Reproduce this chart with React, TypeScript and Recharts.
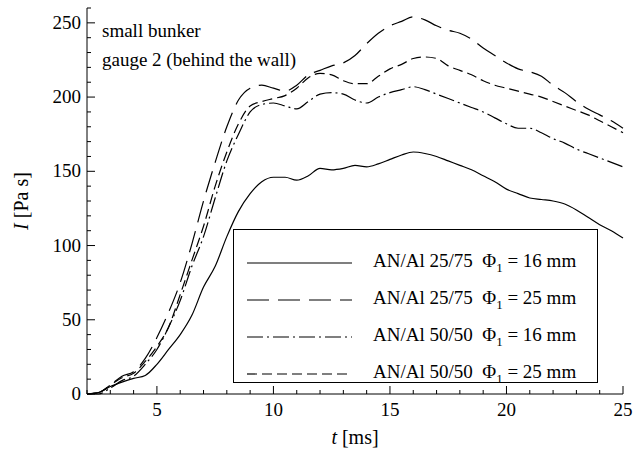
import { LineChart, Line, XAxis, YAxis, Label } from 'recharts';

const times = [2, 2.5, 3, 3.5, 4, 4.5, 5, 5.5, 6, 6.5, 7, 7.5, 8, 8.5, 9, 9.5, 10, 10.5, 11, 11.5, 12, 12.5, 13, 13.5, 14, 14.5, 15, 15.5, 16, 16.5, 17, 17.5, 18, 18.5, 19, 19.5, 20, 20.5, 21, 21.5, 22, 22.5, 23, 23.5, 24, 24.5, 25];

const an2575d16 = [0, 1, 5, 8, 10.5, 12.5, 20, 30, 40, 53, 72, 86, 106, 123, 135, 143, 146, 146, 144, 147, 152, 151, 152, 154, 153, 155, 158, 161, 163, 162, 160, 157, 154, 151, 147, 143, 138, 135, 132, 131, 130, 128, 124, 119, 114, 110, 105];
const an2575d25 = [0, 1, 6, 12, 15, 24, 38, 55, 75, 101, 130, 156, 180, 198, 206, 208, 206, 204, 208, 215, 218, 221, 223, 228, 236, 243, 248, 251, 254, 252, 248, 245, 243, 239, 233, 228, 223, 219, 217, 214, 208, 203, 197, 192, 188, 184, 179];
const an5050d16 = [0, 0, 4, 9, 12, 20, 30, 45, 63, 86, 106, 132, 157, 175, 190, 195, 196, 194, 192, 197, 202, 203, 202, 198, 196, 200, 203, 205, 207, 205, 202, 199, 196, 193, 190, 186, 182, 179, 179, 176, 172, 169, 165, 162, 159, 156, 153];
const an5050d25 = [0, 1, 6, 11, 14, 22, 32, 45, 67, 90, 113, 140, 163, 182, 194, 197, 199, 201, 206, 213, 216, 215, 211, 209, 209, 214, 219, 222, 226, 227, 226, 221, 218, 215, 211, 208, 206, 204, 202, 200, 197, 194, 191, 188, 184, 180, 176];

const xTicks = Array.from({ length: 24 }, (_, i) => i + 2);
const yTicks = Array.from({ length: 27 }, (_, i) => i * 10);

const series = [
  { key: 'a', label: 'AN/Al 25/75', phi: '16', dash: undefined },
  { key: 'b', label: 'AN/Al 25/75', phi: '25', dash: '22 9' },
  { key: 'c', label: 'AN/Al 50/50', phi: '16', dash: '16 4 2 4' },
  { key: 'd', label: 'AN/Al 50/50', phi: '25', dash: '10 5' },
];

const data = times.map((t, i) => ({
  t,
  a: an2575d16[i],
  b: an2575d25[i],
  c: an5050d16[i],
  d: an5050d25[i],
}));

const FONT = '"Liberation Serif", "DejaVu Serif", serif';

const XTick = ({ x, y, payload }: any) => {
  const major = payload.value % 5 === 0;
  return (
    <g>
      <line x1={x} x2={x} y1={y} y2={y - (major ? 8 : 4)} stroke="#000" />
      {major && (
        <text x={x} y={y + 22} textAnchor="middle" fontSize={19} fontFamily={FONT}>
          {payload.value}
        </text>
      )}
    </g>
  );
};

const YTick = ({ x, y, payload }: any) => {
  const major = payload.value % 50 === 0;
  return (
    <g>
      <line x1={x} x2={x + (major ? 8 : 4)} y1={y} y2={y} stroke="#000" />
      {major && (
        <text x={x - 6} y={y + 6} textAnchor="end" fontSize={19} fontFamily={FONT}>
          {payload.value}
        </text>
      )}
    </g>
  );
};

const YTickRight = ({ x, y, payload }: any) => {
  const major = payload.value % 50 === 0;
  return <line x1={x} x2={x - (major ? 8 : 4)} y1={y} y2={y} stroke="#000" />;
};

export default function App() {
  return (
    <div style={{ position: 'absolute', left: 0, top: 0, width: 643, height: 455 }}>
      <LineChart width={643} height={455} data={data} margin={{ top: 8, right: 20, left: 8, bottom: 0 }}>
        <XAxis
          xAxisId="top"
          orientation="top"
          dataKey="t"
          type="number"
          domain={[2, 25]}
          height={0}
          tick={false}
          tickLine={false}
          axisLine={{ stroke: '#000' }}
        />
        <XAxis
          dataKey="t"
          type="number"
          domain={[2, 25]}
          ticks={xTicks}
          interval={0}
          height={61}
          tickSize={0}
          tickMargin={0}
          tick={<XTick />}
          axisLine={{ stroke: '#000' }}
        >
          <Label
            content={({ viewBox }: any) => (
              <text x={viewBox.x + viewBox.width / 2} y={viewBox.y + 50} textAnchor="middle" fontSize={20} fontFamily={FONT}>
                <tspan fontStyle="italic">t</tspan> [ms]
              </text>
            )}
          />
        </XAxis>
        <YAxis
          type="number"
          domain={[0, 260]}
          ticks={yTicks}
          interval={0}
          width={79}
          tickSize={0}
          tickMargin={0}
          tick={<YTick />}
          axisLine={{ stroke: '#000' }}
        >
          <Label
            content={({ viewBox }: any) => {
              const cx = 28;
              const cy = viewBox.y + viewBox.height / 2;
              return (
                <text x={cx} y={cy} textAnchor="middle" fontSize={20} fontFamily={FONT} transform={`rotate(-90 ${cx} ${cy})`}>
                  <tspan fontStyle="italic">I</tspan> [Pa s]
                </text>
              );
            }}
          />
        </YAxis>
        <YAxis
          yAxisId="right"
          orientation="right"
          type="number"
          domain={[0, 260]}
          ticks={yTicks}
          interval={0}
          width={0}
          tickSize={0}
          tickMargin={0}
          tick={<YTickRight />}
          axisLine={{ stroke: '#000' }}
        />
        {series.map((s) => (
          <Line
            key={s.key}
            dataKey={s.key}
            type="monotone"
            stroke="#000"
            strokeWidth={1.2}
            strokeDasharray={s.dash}
            dot={false}
            isAnimationActive={false}
          />
        ))}
      </LineChart>
      <div
        style={{
          position: 'absolute',
          left: 233,
          top: 229,
          width: 365,
          height: 154,
          border: '1px solid #000',
          background: '#fff',
          fontFamily: FONT,
          fontSize: 19,
          boxSizing: 'border-box',
          paddingTop: 14,
        }}
      >
        {series.map((s) => (
          <div key={s.key} style={{ display: 'flex', alignItems: 'center', height: 37 }}>
            <svg width={106} height={10} style={{ marginLeft: 13 }}>
              <line x1={0} x2={105} y1={5} y2={5} stroke="#000" strokeWidth={1.2} strokeDasharray={s.dash} />
            </svg>
            <span style={{ marginLeft: 20, whiteSpace: 'pre' }}>
              {s.label}{'  '}Φ<sub style={{ fontSize: 13 }}>1</sub> = {s.phi} mm
            </span>
          </div>
        ))}
      </div>
      <div style={{ position: 'absolute', left: 102, top: 16, fontFamily: FONT, fontSize: 19, lineHeight: '29px' }}>
        <div>small bunker</div>
        <div>gauge 2 (behind the wall)</div>
      </div>
    </div>
  );
}
